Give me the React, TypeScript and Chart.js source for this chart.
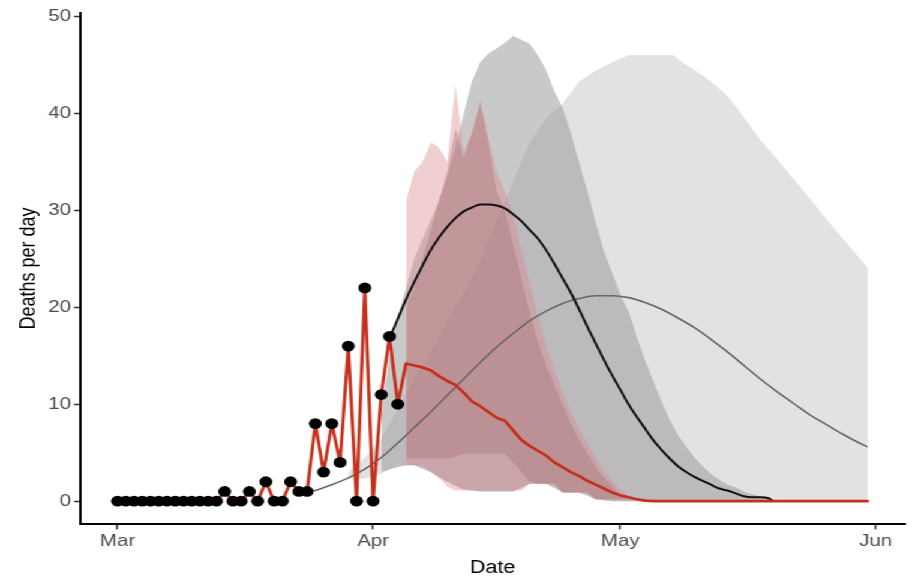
import React, { useEffect, useRef } from 'react';
import { Chart, registerables } from 'chart.js';

Chart.register(...registerables);

// ---- axis ticks ----
const X_TICKS = [0, 31, 61, 92];
const X_LABELS = ['Mar', 'Apr', 'May', 'Jun'];
const Y_TICKS = [0, 10, 20, 30, 40, 50];

// ---- observed deaths (day 0 = 1 Mar) ----
const obsDeaths = [0, 0, 0, 0, 0, 0, 0, 0, 0, 0, 0, 0, 0, 1, 0, 0, 1, 0, 2, 0, 0, 2, 1, 1, 8, 3, 8, 4, 16, 0, 22, 0, 11, 17, 10];

// ---- red projection ----
const projDays = [35, 36, 37, 38, 39, 40, 41, 42, 43, 44, 45, 46, 47, 48, 49, 50, 51, 52, 53, 54, 55, 56, 57, 58, 59, 60, 61, 62, 63, 64, 65, 91];
const projDeaths = [14.2, 14.0, 13.8, 13.5, 12.9, 12.4, 12.0, 11.2, 10.3, 9.8, 9.2, 8.6, 8.3, 7.3, 6.3, 5.7, 5.2, 4.7, 4.0, 3.5, 3.0, 2.6, 2.1, 1.7, 1.3, 0.9, 0.6, 0.4, 0.2, 0.05, 0, 0];

// ---- black model curve ----
const blackDays = [33, 34, 35, 36, 37, 38, 39, 40, 41, 42, 43, 44, 45, 46, 47, 48, 49, 50, 51, 52, 53, 54, 55, 56, 57, 58, 59, 60, 61, 62, 63, 64, 65, 66, 67, 68, 69, 70, 71, 72, 73, 74, 75, 76, 77, 78, 79, 79.5];
const blackVals = [16.8, 18.8, 20.8, 22.6, 24.3, 25.9, 27.2, 28.3, 29.2, 29.9, 30.3, 30.6, 30.6, 30.5, 30.2, 29.6, 28.9, 28.0, 27.1, 25.9, 24.5, 23.0, 21.5, 19.8, 18.0, 16.3, 14.6, 13.0, 11.5, 10.0, 8.7, 7.5, 6.3, 5.3, 4.4, 3.6, 3.0, 2.5, 2.1, 1.7, 1.3, 1.1, 0.8, 0.5, 0.4, 0.4, 0.3, 0];

// ---- gray model curve ----
const grayDays = [23, 24, 26, 28, 30, 32, 34, 36, 38, 40, 42, 44, 46, 48, 50, 52, 54, 56, 58, 60, 62, 64, 66, 68, 70, 72, 74, 76, 78, 80, 82, 84, 86, 88, 90, 91];
const grayVals = [1.0, 1.1, 1.7, 2.4, 3.3, 4.5, 6.0, 7.6, 9.2, 10.9, 12.6, 14.3, 15.9, 17.3, 18.6, 19.6, 20.4, 20.9, 21.2, 21.2, 21.0, 20.5, 19.8, 18.9, 17.9, 16.7, 15.4, 14.0, 12.6, 11.3, 10.1, 8.9, 7.9, 6.9, 6.0, 5.6];

// ---- light gray band ----
const lgDays = [28, 30, 32, 34, 36, 38, 40, 42, 44, 46, 48, 50, 52, 54, 56, 58, 60, 62, 64, 66, 67.5, 68.5, 70, 72, 74, 76, 78, 80, 82, 84, 86, 88, 90, 91];
const lgUpper = [3.0, 4.5, 6.5, 9.5, 12.7, 15.5, 18.6, 21.5, 24.8, 29, 33, 37, 39.5, 41, 43.3, 44.4, 45.3, 46, 46, 46, 46, 45.3, 44.5, 43.3, 41.8, 39.6, 37.3, 35.3, 33.3, 31.2, 29.1, 27.1, 25.1, 24.1];
const lgLower = [2.3, 2.3, 2.8, 3.7, 3.7, 3.0, 2.0, 1.2, 1.0, 1.0, 1.0, 1.8, 1.8, 0.9, 0.9, 0.2, 0, 0, 0, 0, 0, 0, 0, 0, 0, 0, 0, 0, 0, 0, 0, 0, 0, 0];

// ---- dark gray band ----
const dgDays = [32, 33, 34, 35, 36, 37, 38, 39, 40, 41, 42, 43, 44, 45, 46, 47, 48, 49, 50, 51, 52, 53, 54, 55, 56, 57, 58, 59, 60, 61, 62, 63, 64, 65, 66, 67, 68, 69, 70, 71, 72, 73, 74, 75, 76, 77, 78, 79, 80];
const dgUpper = [9, 15, 19, 22, 25, 27, 29, 31, 33.5, 36.5, 40, 43.3, 45.3, 46.2, 46.7, 47.3, 48, 47.6, 47.2, 46, 44.5, 42.3, 40.6, 38, 35, 32, 28.8, 25.8, 23.6, 21.3, 19.6, 17, 14.5, 12.4, 10.3, 8.4, 6.8, 5.6, 4.5, 3.6, 2.8, 2.2, 1.7, 1.4, 1.0, 0.7, 0.5, 0.3, 0];
const dgLower = [3.0, 3.3, 3.5, 3.7, 3.7, 3.4, 3.0, 2.5, 2.0, 1.6, 1.2, 1.1, 1.0, 1.0, 1.0, 1.0, 1.0, 1.4, 1.8, 1.8, 1.8, 1.4, 0.9, 0.9, 0.9, 0.6, 0.2, 0.1, 0, 0, 0, 0, 0, 0, 0, 0, 0, 0, 0, 0, 0, 0, 0, 0, 0, 0, 0, 0, 0];

// ---- light pink band ----
const p1Days = [35, 36, 37, 38, 39, 40, 41, 42, 43, 44, 45, 46, 47, 48, 49, 50, 51, 52, 53, 54, 55, 56, 57, 58, 59, 60, 61, 62, 63];
const p1Upper = [31, 34, 35, 37, 36.5, 35, 43, 36, 38, 41.5, 37.5, 34, 32, 29.5, 26, 22.5, 19, 16, 13.5, 11.2, 9.2, 7.5, 6, 4.5, 3.2, 2.1, 1.2, 0.5, 0];
const p1Lower = [3.7, 3.7, 3.7, 3.0, 2.4, 1.5, 1.1, 1.1, 1.1, 1.1, 1.1, 1.1, 1.1, 1.1, 1.1, 1.8, 1.8, 1.8, 1.8, 0.9, 0.9, 0.9, 0.9, 0.2, 0.2, 0.2, 0.2, 0.1, 0];

// ---- rose band ----
const roseDays = [35, 36, 37, 38, 39, 40, 41, 42, 43, 44, 45, 46, 47, 48, 49, 50, 51, 52, 53, 54, 55, 56, 57, 58, 59, 60, 61, 62];
const roseUpper = [20, 22, 25, 28, 31, 34, 38.5, 35.4, 38, 41, 37, 32, 30, 26.5, 23, 19.5, 16.5, 14, 12, 10, 8, 6.3, 5, 3.6, 2.5, 1.5, 0.7, 0.2];
const roseLower = [4.4, 4.4, 4.4, 4.4, 4.4, 4.4, 4.6, 4.9, 4.9, 4.9, 4.9, 4.9, 4.9, 4.0, 3.0, 2.0, 1.8, 1.8, 1.8, 0.9, 0.9, 0.9, 0.9, 0.2, 0.2, 0.2, 0.2, 0.2];

const FONT = "'Liberation Sans', Arial, Helvetica, sans-serif";

const pts = (xs: number[], ys: number[]) => xs.map((x, i) => ({ x, y: ys[i] }));

function band(label: string, xs: number[], up: number[], lo: number[], color: string) {
  return [
    {
      label: label + ' upper',
      data: pts(xs, up),
      fill: '+1',
      backgroundColor: color,
      borderColor: 'rgba(0,0,0,0)',
      borderWidth: 0,
      pointRadius: 0,
      tension: 0,
    },
    {
      label: label + ' lower',
      data: pts(xs, lo),
      fill: false,
      borderColor: 'rgba(0,0,0,0)',
      borderWidth: 0,
      pointRadius: 0,
      tension: 0,
    },
  ];
}

export default function App() {
  const canvasRef = useRef<HTMLCanvasElement | null>(null);

  useEffect(() => {
    if (!canvasRef.current) return;
    const obsPts = obsDeaths.map((y, i) => ({ x: i, y }));
    const redPts = obsPts.concat(pts(projDays, projDeaths));

    const chart = new Chart(canvasRef.current, {
      type: 'line',
      data: {
        datasets: [
          {
            label: 'Observed',
            data: obsPts,
            showLine: false,
            pointRadius: 5.4,
            pointBackgroundColor: '#000',
            pointBorderColor: '#000',
            pointBorderWidth: 0,
          },
          {
            label: 'Fit',
            data: redPts,
            borderColor: '#c4301c',
            borderWidth: 2.7,
            borderJoinStyle: 'round',
            borderCapStyle: 'round',
            pointRadius: 0,
            tension: 0,
            fill: false,
          },
          {
            label: 'Scenario A',
            data: pts(blackDays, blackVals),
            borderColor: '#111111',
            borderWidth: 2,
            pointRadius: 0,
            cubicInterpolationMode: 'monotone',
            fill: false,
          },
          {
            label: 'Scenario B',
            data: pts(grayDays, grayVals),
            borderColor: '#686868',
            borderWidth: 1.6,
            pointRadius: 0,
            cubicInterpolationMode: 'monotone',
            fill: false,
          },
          ...band('rose', roseDays, roseUpper, roseLower, 'rgba(172,118,124,0.42)'),
          ...band('pink', p1Days, p1Upper, p1Lower, 'rgba(220,135,140,0.40)'),
          ...band('dark gray', dgDays, dgUpper, dgLower, 'rgba(150,147,149,0.50)'),
          ...band('light gray', lgDays, lgUpper, lgLower, 'rgba(175,170,173,0.35)'),
        ] as any,
      },
      options: {
        responsive: false,
        animation: false,
        devicePixelRatio: 1,
        layout: { padding: { top: 9.4, right: 5.8, left: 0, bottom: 0 } },
        plugins: { legend: { display: false }, tooltip: { enabled: false } },
        scales: {
          x: {
            type: 'linear',
            min: -4.55,
            max: 95.55,
            afterBuildTicks: (s: any) => {
              s.ticks = X_TICKS.map((v) => ({ value: v }));
            },
            afterFit: (s: any) => {
              s.height = 56.6;
            },
            ticks: {
              autoSkip: false,
              maxRotation: 0,
              color: '#4d4d4d',
              padding: 2,
              font: { family: FONT, size: 17 },
              callback: (v: any) => {
                const i = X_TICKS.indexOf(Number(v));
                return i >= 0 ? X_LABELS[i] : '';
              },
            },
            grid: { drawOnChartArea: false, drawTicks: true, tickLength: 5, tickColor: '#333', tickWidth: 1.5 },
            border: { display: true, color: '#000', width: 2 },
            title: { display: true, text: 'Date', color: '#000', font: { family: FONT, size: 18 }, padding: { top: 0, bottom: 2 } },
          },
          y: {
            type: 'linear',
            min: -2.4,
            max: 50.4,
            afterBuildTicks: (s: any) => {
              s.ticks = Y_TICKS.map((v) => ({ value: v }));
            },
            afterFit: (s: any) => {
              s.width = 66.7;
            },
            ticks: {
              autoSkip: false,
              color: '#4d4d4d',
              padding: 2.5,
              font: { family: FONT, size: 17 },
              callback: (v: any) => String(v),
            },
            grid: { drawOnChartArea: false, drawTicks: true, tickLength: 5, tickColor: '#333', tickWidth: 1.5 },
            border: { display: true, color: '#000', width: 2 },
            title: { display: true, text: 'Deaths per day', color: '#000', font: { family: FONT, size: 18 }, padding: { top: 13.4, bottom: 0 } },
          },
        },
      } as any,
    });
    return () => chart.destroy();
  }, []);

  return (
    <div
      style={{
        position: 'fixed',
        left: 0,
        top: 0,
        width: 760,
        height: 581,
        transform: 'scaleX(1.2)',
        transformOrigin: '0 0',
        background: '#fff',
      }}
    >
      <canvas ref={canvasRef} width={760} height={581} />
    </div>
  );
}
